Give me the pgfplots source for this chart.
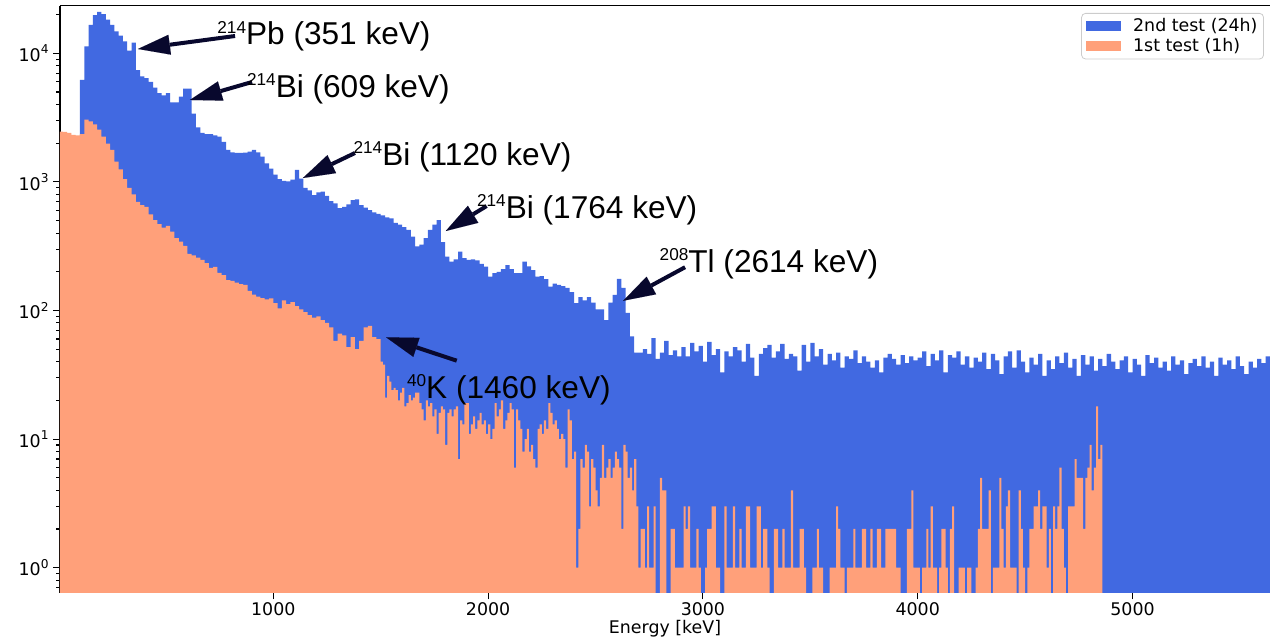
\documentclass[border=0pt]{standalone}
\usepackage{pgfplots}
\pgfplotsset{compat=1.18}
\usepackage{fontspec}
\setmainfont{DejaVu Sans}
\newfontfamily\annotfont{Liberation Sans}
\usetikzlibrary{arrows.meta}

\definecolor{run24}{RGB}{65,105,225}
\definecolor{run1}{RGB}{255,160,122}
\definecolor{arrowink}{RGB}{8,8,45}

\newcommand\tickfont{\fontsize{8.7}{10}\selectfont}
% isotope label: mass number raised in front of the element and line energy
\newcommand\iso[2]{{\annotfont\raisebox{5.85pt}{\fontsize{8.6}{9}\selectfont #1}\fontsize{15.8}{18}\selectfont #2}}

\tikzset{peakarrow/.style={arrowink, line width=2pt,
  -{Triangle[length=16pt, width=10pt, line width=0.01pt]}}}

\begin{document}
\begin{tikzpicture}
\path[use as bounding box] (-30pt,-23.65pt) rectangle (605pt,296.35pt);
\begin{axis}[
  at={(0,0)}, anchor=south west,
  scale only axis, width=605pt, height=293.5pt,
  xmin=7, xmax=5640,
  ymode=log, ymin=0.639, ymax=23450,
  axis x line*=box, axis y line*=left,
  axis line style={black, line width=0.55pt},
  tick style={black, line width=0.55pt},
  tick align=outside, tick pos=left,
  major tick length=3.35pt, minor tick length=1.9pt,
  xtick={1000,2000,3000,4000,5000},
  xticklabels={1000,2000,3000,4000,5000},
  ytick={1,10,100,1000,10000},
  yticklabels={10\textsuperscript{0},10\textsuperscript{1},10\textsuperscript{2},10\textsuperscript{3},10\textsuperscript{4}},
  minor ytick={0.7,0.8,0.9,2,3,4,5,6,7,8,9,20,30,40,50,60,70,80,90,
    200,300,400,500,600,700,800,900,2000,3000,4000,5000,6000,7000,8000,9000,20000},
  tick label style={font=\tickfont},
  xticklabel style={inner ysep=1.6pt},
  yticklabel style={inner xsep=1.7pt},
  xlabel={Energy [keV]},
  xlabel style={at={(rel axis cs:0.5,0)}, anchor=base, yshift=-20.6pt, font=\tickfont},
  legend style={at={(rel axis cs:0.995,0.9876)}, anchor=north east,
    draw=black!20, rounded corners=2pt, fill=white,
    font=\tickfont, inner xsep=2pt, inner ysep=1.3pt,
    nodes={inner sep=1pt, sharp corners},
    /tikz/every odd column/.append style={column sep=5pt}},
  legend cell align=left,
  legend image code/.code={\fill[#1, sharp corners] (0pt,-2.5pt) rectangle (17.8pt,2.5pt);},
]

% 24 h run, 20 keV bins (left edges); the run starts at 100 keV
\addplot[fill=run24, draw=none, const plot mark left] coordinates {
(100,0.3)
(100,6200) (120,11300) (140,16600) (160,19800) (180,21000) (200,20200) (220,18300) (240,16600) (260,14800) (280,13700)
(300,12400) (320,10500) (340,12100) (360,7400) (380,6600) (400,6400) (420,6000) (440,5400) (460,4900) (480,4700)
(500,4900) (520,4150) (540,4150) (560,4600) (580,5300) (600,5300) (620,3400) (640,2650) (660,2400) (680,2350)
(700,2350) (720,2300) (740,2250) (760,2050) (780,1770) (800,1700) (820,1680) (840,1680) (860,1690) (880,1720)
(900,1770) (920,1700) (940,1570) (960,1390) (980,1270) (1000,1140) (1020,1050) (1040,1020) (1060,1010) (1080,1040)
(1100,1240) (1120,1060) (1140,900) (1160,860) (1180,790) (1200,830) (1220,840) (1240,780) (1260,710) (1280,680)
(1300,625) (1320,640) (1340,670) (1360,720) (1380,730) (1400,660) (1420,630) (1440,604) (1460,580) (1480,565)
(1500,550) (1520,530) (1540,520) (1560,480) (1580,465) (1600,445) (1620,423) (1640,375) (1660,315) (1680,325)
(1700,365) (1720,423) (1740,465) (1760,505) (1780,340) (1800,262) (1820,240) (1840,250) (1860,287) (1880,255)
(1900,247) (1920,250) (1940,245) (1960,230) (1980,219) (2000,183) (2020,195) (2040,200) (2060,210) (2080,225)
(2100,210) (2120,195) (2140,195) (2160,240) (2180,220) (2200,206) (2220,183) (2240,185) (2260,175) (2280,153)
(2300,162) (2320,158) (2340,155) (2360,150) (2380,139) (2400,114) (2420,127) (2440,120) (2460,127) (2480,115)
(2500,102) (2520,102) (2540,84) (2560,115) (2580,132) (2600,176) (2620,150) (2640,96) (2660,63) (2680,47)
(2700,47) (2720,50) (2740,46) (2760,61) (2780,42) (2800,47) (2820,58) (2840,45) (2860,49) (2880,44)
(2900,52) (2920,44) (2940,56) (2960,48) (2980,53) (3000,40) (3020,57) (3040,45) (3060,50) (3080,33)
(3100,48) (3120,44) (3140,52) (3160,49) (3180,40) (3200,55) (3220,43) (3240,31) (3260,46) (3280,51)
(3300,54) (3320,43) (3340,48) (3360,55) (3380,42) (3400,46) (3420,44) (3440,34) (3460,54) (3480,40)
(3500,56) (3520,44) (3540,50) (3560,38) (3580,46) (3600,41) (3620,47) (3640,36) (3660,44) (3680,42)
(3700,49) (3720,39) (3740,44) (3760,40) (3780,36) (3800,41) (3820,33) (3840,43) (3860,46) (3880,42)
(3900,38) (3920,45) (3940,39) (3960,44) (3980,41) (4000,43) (4020,48) (4040,37) (4060,46) (4080,41)
(4100,49) (4120,33) (4140,45) (4160,43) (4180,48) (4200,38) (4220,44) (4240,36) (4260,43) (4280,40)
(4300,47) (4320,35) (4340,46) (4360,41) (4380,32) (4400,44) (4420,48) (4440,36) (4460,49) (4480,40)
(4500,33) (4520,43) (4540,38) (4560,46) (4580,31) (4600,41) (4620,35) (4640,44) (4660,39) (4680,47)
(4700,36) (4720,42) (4740,31) (4760,45) (4780,38) (4800,44) (4820,34) (4840,42) (4860,37) (4880,46)
(4900,40) (4920,35) (4940,41) (4960,44) (4980,33) (5000,42) (5020,38) (5040,31) (5060,45) (5080,39)
(5100,43) (5120,36) (5140,40) (5160,34) (5180,44) (5200,38) (5220,41) (5240,32) (5260,39) (5280,42)
(5300,37) (5320,44) (5340,36) (5360,40) (5380,31) (5400,43) (5420,38) (5440,41) (5460,35) (5480,44)
(5500,37) (5520,32) (5540,40) (5560,36) (5580,42) (5600,39) (5620,44)
(5640,0.3)
};
\addlegendentry{2nd test (24h)}

% 1 h run: 20 keV bins below 1500 keV, 10 keV above; empty bins sit at 0.3, under the axis floor
\addplot[fill=run1, draw=none, const plot mark left] coordinates {
(0,0.3)
(0,2460) (20,2450) (40,2400) (60,2320) (80,2300) (100,2350) (120,3050) (140,2950) (160,2800) (180,2550)
(200,2250) (220,1980) (240,1770) (260,1440) (280,1250) (300,1050) (320,900) (340,800) (360,700) (380,660)
(400,640) (420,560) (440,505) (460,470) (480,440) (500,455) (520,410) (540,365) (560,343) (580,318)
(600,275) (620,268) (640,258) (660,247) (680,233) (700,214) (720,218) (740,196) (760,188) (780,172)
(800,170) (820,165) (840,160) (860,158) (880,142) (900,133) (920,128) (940,125) (960,122) (980,124)
(1000,114) (1020,104) (1040,120) (1060,112) (1080,116) (1100,108) (1120,102) (1140,97) (1160,92) (1180,88)
(1200,90) (1220,84) (1240,80) (1260,74) (1280,58) (1300,66) (1320,64) (1340,52) (1360,62) (1380,50)
(1400,58) (1420,74) (1440,76) (1460,62) (1480,60)
(1500,40) (1510,38) (1520,21) (1530,31) (1540,28) (1550,24) (1560,25) (1570,24) (1580,20) (1590,23)
(1600,25) (1610,18) (1620,19) (1630,22) (1640,20) (1650,21) (1660,23) (1670,23) (1680,19) (1690,17)
(1700,14) (1710,20) (1720,18) (1730,19) (1740,15) (1750,17) (1760,11) (1770,16) (1780,18) (1790,17)
(1800,9) (1810,16) (1820,17) (1830,15) (1840,17) (1850,18) (1860,7) (1870,14) (1880,13) (1890,19)
(1900,19) (1910,11) (1920,13) (1930,15) (1940,12) (1950,14) (1960,16) (1970,13) (1980,14) (1990,11)
(2000,13) (2010,10) (2020,12) (2030,19) (2040,15) (2050,17) (2060,20) (2070,12) (2080,14) (2090,16)
(2100,19) (2110,17) (2120,6) (2130,17) (2140,14) (2150,12) (2160,8) (2170,10) (2180,12) (2190,8)
(2200,9) (2210,7) (2220,6) (2230,12) (2240,13) (2250,11) (2260,14) (2270,12) (2280,19) (2290,16)
(2300,13) (2310,14) (2320,12) (2330,10) (2340,11) (2350,10) (2360,6) (2370,17) (2380,14) (2390,7)
(2400,8) (2410,1) (2420,2) (2430,7) (2440,6) (2450,9) (2460,8) (2470,3) (2480,7) (2490,6)
(2500,4) (2510,3) (2520,5) (2530,9) (2540,5) (2550,6) (2560,7) (2570,5) (2580,6) (2590,8)
(2600,7) (2610,6) (2620,2) (2630,9) (2640,8) (2650,5) (2660,6) (2670,4) (2680,7) (2690,3)
(2700,1) (2710,2) (2720,2) (2730,1) (2740,3) (2750,1) (2760,1) (2770,3) (2780,0.3) (2790,0.3)
(2800,5) (2810,4) (2820,4) (2830,0.3) (2840,0.3) (2850,2) (2860,2) (2870,1) (2880,1) (2890,1)
(2900,1) (2910,3) (2920,2) (2930,3) (2940,1) (2950,1) (2960,1) (2970,2) (2980,1) (2990,0.3)
(3000,0.3) (3010,1) (3020,2) (3030,2) (3040,3) (3050,3) (3060,1) (3070,1) (3080,0.3) (3090,0.3)
(3100,3) (3110,1) (3120,1) (3130,1) (3140,3) (3150,1) (3160,1) (3170,2) (3180,1) (3190,1)
(3200,3) (3210,3) (3220,1) (3230,1) (3240,1) (3250,3) (3260,3) (3270,1) (3280,2) (3290,2)
(3300,1) (3310,0.3) (3320,0.3) (3330,2) (3340,2) (3350,1) (3360,1) (3370,2) (3380,1) (3390,1)
(3400,1) (3410,4) (3420,1) (3430,1) (3440,1) (3450,2) (3460,2) (3470,1) (3480,0.3) (3490,0.3)
(3500,0.3) (3510,1) (3520,1) (3530,2) (3540,1) (3550,1) (3560,0.3) (3570,0.3) (3580,0.3) (3590,1)
(3600,1) (3610,1) (3620,3) (3630,2) (3640,1) (3650,1) (3660,0.3) (3670,1) (3680,1) (3690,1)
(3700,2) (3710,1) (3720,1) (3730,1) (3740,2) (3750,2) (3760,1) (3770,1) (3780,2) (3790,1)
(3800,1) (3810,2) (3820,2) (3830,1) (3840,1) (3850,2) (3860,2) (3870,2) (3880,2) (3890,2)
(3900,1) (3910,1) (3920,0.3) (3930,0.3) (3940,0.3) (3950,2) (3960,2) (3970,4) (3980,1) (3990,1)
(4000,1) (4010,0.3) (4020,1) (4030,1) (4040,2) (4050,1)
(4060,3) (4070,1) (4080,1) (4090,0.3) (4100,1) (4110,2) (4120,2) (4130,1) (4140,0.3) (4150,2)
(4160,3) (4170,0.3) (4180,0.3) (4190,1) (4200,1) (4210,1) (4220,0.3) (4230,1) (4240,1) (4250,0.3)
(4260,0.3) (4270,1) (4280,2) (4290,5) (4300,2) (4310,2) (4320,2) (4330,4) (4340,0.3) (4350,1)
(4360,1) (4370,1) (4380,5) (4390,2) (4400,1) (4410,3) (4420,4) (4430,1) (4440,1) (4450,1)
(4460,0.3) (4470,4) (4480,2) (4490,1) (4500,0.3) (4510,1) (4520,2) (4530,2) (4540,3) (4550,3)
(4560,4) (4570,2) (4580,3) (4590,3) (4600,1) (4610,2) (4620,0.3) (4630,3) (4640,2) (4650,3)
(4660,6) (4670,2) (4680,1) (4690,0.3) (4700,3) (4710,3) (4720,3) (4730,7) (4740,5) (4750,5)
(4760,5) (4770,2) (4780,5) (4790,6) (4800,9) (4810,4) (4820,6) (4830,18) (4840,7) (4850,9)
(4860,0.3)
};
\addlegendentry{1st test (1h)}

% line identifications
\draw[peakarrow] (axis cs:822,13630) -- (axis cs:370,10800);
\draw[peakarrow] (axis cs:901,5980) -- (axis cs:612,4335);
\draw[peakarrow] (axis cs:1380,1677) -- (axis cs:1138,1072);
\draw[peakarrow] (axis cs:1993,649) -- (axis cs:1803,415);
\draw[peakarrow] (axis cs:2917,217) -- (axis cs:2629,119);
\draw[peakarrow] (axis cs:1854,40.7) -- (axis cs:1525,61.9);

\node[anchor=base west, inner sep=0pt] at (axis cs:738,11600) {\iso{214}{Pb (351 keV)}};
\node[anchor=base west, inner sep=0pt] at (axis cs:876,4571) {\iso{214}{Bi (609 keV)}};
\node[anchor=base west, inner sep=0pt] at (axis cs:1372,1353) {\iso{214}{Bi (1120 keV)}};
\node[anchor=base west, inner sep=0pt] at (axis cs:1947,521) {\iso{214}{Bi (1764 keV)}};
\node[anchor=base west, inner sep=0pt] at (axis cs:2797,196.8) {\iso{208}{Tl (2614 keV)}};
\node[anchor=base west, inner sep=0pt] at (axis cs:1621,20.8) {\iso{40}{K (1460 keV)}};
\end{axis}
\end{tikzpicture}
\end{document}
